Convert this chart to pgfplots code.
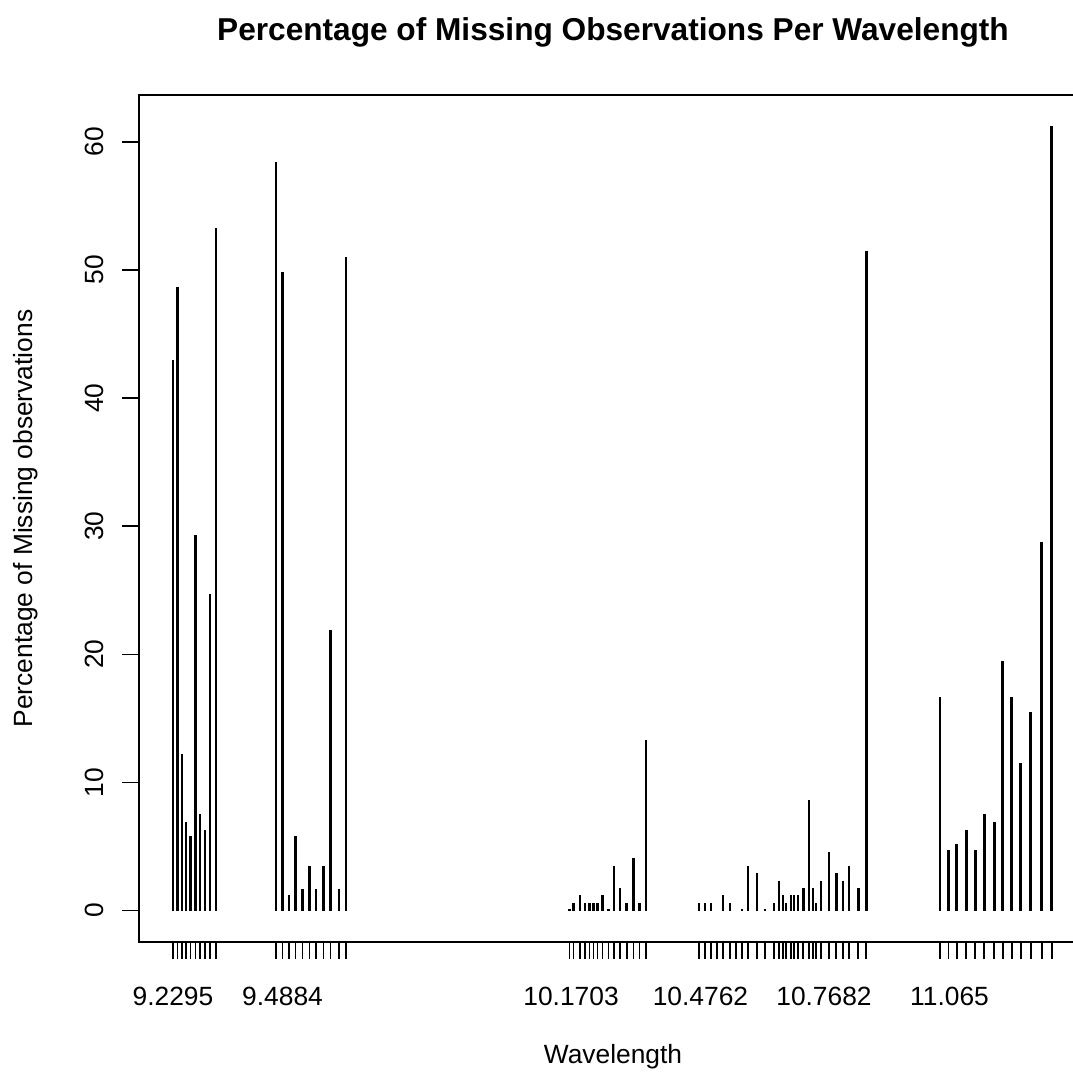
\documentclass[border=0pt]{standalone}
\usepackage{pgfplots}
\pgfplotsset{compat=1.18}
\usepackage{fontspec}
\setmainfont{Liberation Sans}
\begin{document}
\begin{tikzpicture}
\begin{axis}[
  width=18.96cm, height=16.94cm, scale only axis,
  xmin=9.1491, xmax=11.3899, ymin=-2.45, ymax=63.65,
  axis line style={line width=0.035cm, black},
  tick align=outside, xtick pos=bottom, ytick pos=left,
  major tick length=0.34cm,
  tick style={line width=0.03cm, black},
  xtick=data, xticklabels={},
  extra x ticks={9.2295,9.4884,10.1703,10.4762,10.7682,11.065},
  extra x tick labels={9.2295,9.4884,10.1703,10.4762,10.7682,11.065},
  extra x tick style={major tick length=0pt},
  xticklabel shift=0.78cm,
  ytick={0,10,20,30,40,50,60},
  yticklabel style={rotate=90, anchor=south},
  yticklabel shift=0.25cm,
  /pgf/number format/assume math mode=true,
  tick label style={font=\fontsize{15}{18}\selectfont},
  label style={font=\fontsize{15}{18}\selectfont},
  title={Percentage of Missing Observations Per Wavelength},
  title style={font=\bfseries\fontsize{18}{22}\selectfont, at={(axis description cs:0.5,1.0614)}, anchor=center},
  xlabel={Wavelength},
  xlabel style={at={(axis description cs:0.5,-0.1358)}, anchor=center},
  ylabel={Percentage of Missing observations},
  ylabel style={at={(axis description cs:-0.1192,0.5)}, anchor=center},
]
\addplot[ycomb, black, line width=0.055cm, mark=none] coordinates {
(9.2295,43.0) (9.2401,48.7) (9.2508,12.2) (9.2602,6.9) (9.2709,5.8)
(9.2827,29.3) (9.2933,7.5) (9.3052,6.3) (9.3170,24.7) (9.3312,53.3)
(9.4730,58.4) (9.4879,49.8) (9.5037,1.2) (9.5196,5.8) (9.5361,1.7)
(9.5517,3.5) (9.5676,1.7) (9.5848,3.5) (9.6023,21.9) (9.6219,1.7) (9.6385,51.0)
(10.1664,0.15) (10.1758,0.6) (10.1917,1.2) (10.2035,0.6) (10.2137,0.6)
(10.2231,0.6) (10.2326,0.6) (10.2444,1.2) (10.2586,0.15) (10.2721,3.5)
(10.2862,1.8) (10.3021,0.6) (10.3177,4.1) (10.3319,0.6) (10.3477,13.3)
(10.4730,0.6) (10.4872,0.6) (10.5014,0.6) (10.5156,0) (10.5297,1.2)
(10.5463,0.6) (10.5605,0) (10.5747,0.15) (10.5888,3.5) (10.6101,2.9)
(10.6290,0.15) (10.6503,0.6) (10.6621,2.3) (10.6716,1.2) (10.6787,0.6)
(10.6905,1.2) (10.6976,1.2) (10.7070,1.2) (10.7189,1.8) (10.7330,8.6)
(10.7425,1.8) (10.7496,0.6) (10.7614,2.3) (10.7803,4.6) (10.7969,2.9)
(10.8134,2.3) (10.8276,3.5) (10.8489,1.8) (10.8678,51.5)
(11.0427,16.7) (11.0624,4.7) (11.0822,5.2) (11.1042,6.3) (11.1255,4.7)
(11.1468,7.5) (11.1704,6.9) (11.1910,19.5) (11.2122,16.7) (11.2335,11.5)
(11.2572,15.5) (11.2832,28.8) (11.3068,61.2)
};
\end{axis}
\pgfresetboundingbox
\useasboundingbox (-2.78cm,-2.64cm) rectangle (18.68cm,18.84cm);
\end{tikzpicture}
\end{document}
